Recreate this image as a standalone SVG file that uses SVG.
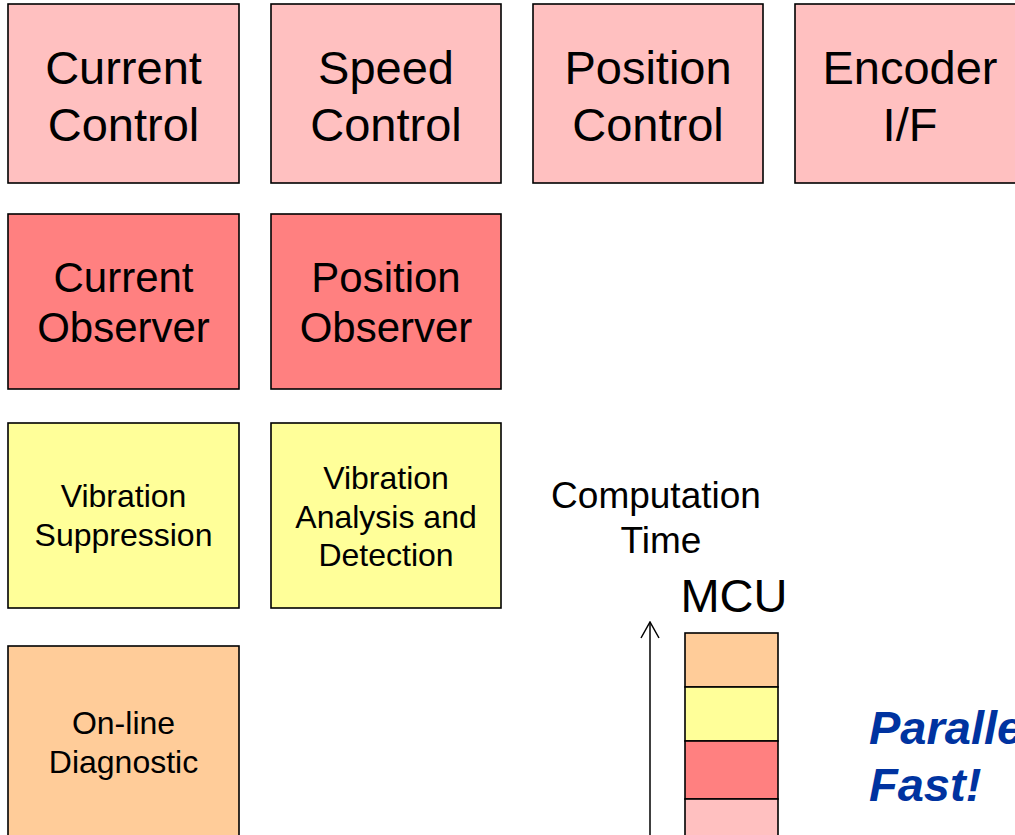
<svg xmlns="http://www.w3.org/2000/svg" width="1015" height="835" viewBox="0 0 1015 835">
  <defs>
    <style>
      .box { stroke: #000; stroke-width: 1.6; }
      .ctl { fill: #FFC0C0; }
      .obs { fill: #FF8080; }
      .vib { fill: #FFFF99; }
      .diag { fill: #FFCC99; }
      text { font-family: "Liberation Sans", Arial, sans-serif; fill: #000; text-anchor: middle; }
      .t1 { font-size: 47px; }
      .t2 { font-size: 42px; }
      .t3 { font-size: 32px; }
      .hl { font-size: 47px; font-weight: bold; font-style: italic; fill: #0033A0; text-anchor: start; }
    </style>
    <!-- open arrowhead; x axis follows the line direction -->
    <marker id="open-arrow" viewBox="0 0 20 20" refX="19" refY="10" markerWidth="20" markerHeight="20" markerUnits="userSpaceOnUse" orient="auto">
      <path d="M3,1 L19,10 L3,19" fill="none" stroke="#000" stroke-width="1.5"/>
    </marker>
  </defs>
  <rect width="1015" height="835" fill="#fff"/>

  <!-- control loops -->
  <g id="current-control">
    <rect class="box ctl" x="8" y="4" width="231" height="179"/>
    <text class="t1" x="123.5" y="84">Current</text>
    <text class="t1" x="123.5" y="141">Control</text>
  </g>
  <g id="speed-control">
    <rect class="box ctl" x="271" y="4" width="230" height="179"/>
    <text class="t1" x="386" y="84">Speed</text>
    <text class="t1" x="386" y="141">Control</text>
  </g>
  <g id="position-control">
    <rect class="box ctl" x="533" y="4" width="230" height="179"/>
    <text class="t1" x="648" y="84">Position</text>
    <text class="t1" x="648" y="141">Control</text>
  </g>
  <g id="encoder-if">
    <rect class="box ctl" x="795" y="4" width="231" height="179"/>
    <text class="t1" x="910" y="84">Encoder</text>
    <text class="t1" x="910" y="141">I/F</text>
  </g>

  <!-- observers -->
  <g id="current-observer">
    <rect class="box obs" x="8" y="214" width="231" height="175"/>
    <text class="t2" x="123.5" y="292">Current</text>
    <text class="t2" x="123.5" y="342">Observer</text>
  </g>
  <g id="position-observer">
    <rect class="box obs" x="271" y="214" width="230" height="175"/>
    <text class="t2" x="386" y="292">Position</text>
    <text class="t2" x="386" y="342">Observer</text>
  </g>

  <!-- vibration -->
  <g id="vibration-suppression">
    <rect class="box vib" x="8" y="423" width="231" height="185"/>
    <text class="t3" x="123.5" y="507">Vibration</text>
    <text class="t3" x="123.5" y="546">Suppression</text>
  </g>
  <g id="vibration-analysis">
    <rect class="box vib" x="271" y="423" width="230" height="185"/>
    <text class="t3" x="386" y="489">Vibration</text>
    <text class="t3" x="386" y="528">Analysis and</text>
    <text class="t3" x="386" y="566">Detection</text>
  </g>

  <!-- diagnostics -->
  <g id="online-diagnostic">
    <rect class="box diag" x="8" y="646" width="231" height="195"/>
    <text class="t3" x="123.5" y="734">On-line</text>
    <text class="t3" x="123.5" y="773">Diagnostic</text>
  </g>

  <!-- computation time axis -->
  <g id="time-label">
    <text x="656" y="508" style="font-size:37px">Computation</text>
    <text x="661" y="553" style="font-size:37px">Time</text>
  </g>
  <g id="connectors">
    <line x1="650" y1="840" x2="650" y2="622" stroke="#000" stroke-width="1.5" marker-end="url(#open-arrow)"/>
  </g>

  <!-- sequential MCU schedule -->
  <g id="mcu-stack">
    <text x="734" y="612" style="font-size:47px">MCU</text>
    <rect class="box diag" x="685" y="633" width="93" height="54"/>
    <rect class="box vib" x="685" y="687" width="93" height="54"/>
    <rect class="box obs" x="685" y="741" width="93" height="58"/>
    <rect class="box ctl" x="685" y="799" width="93" height="45"/>
  </g>

  <g id="parallel-note">
    <text class="hl" x="869" y="744">Parallel,</text>
    <text class="hl" x="869" y="801">Fast!</text>
  </g>
</svg>
